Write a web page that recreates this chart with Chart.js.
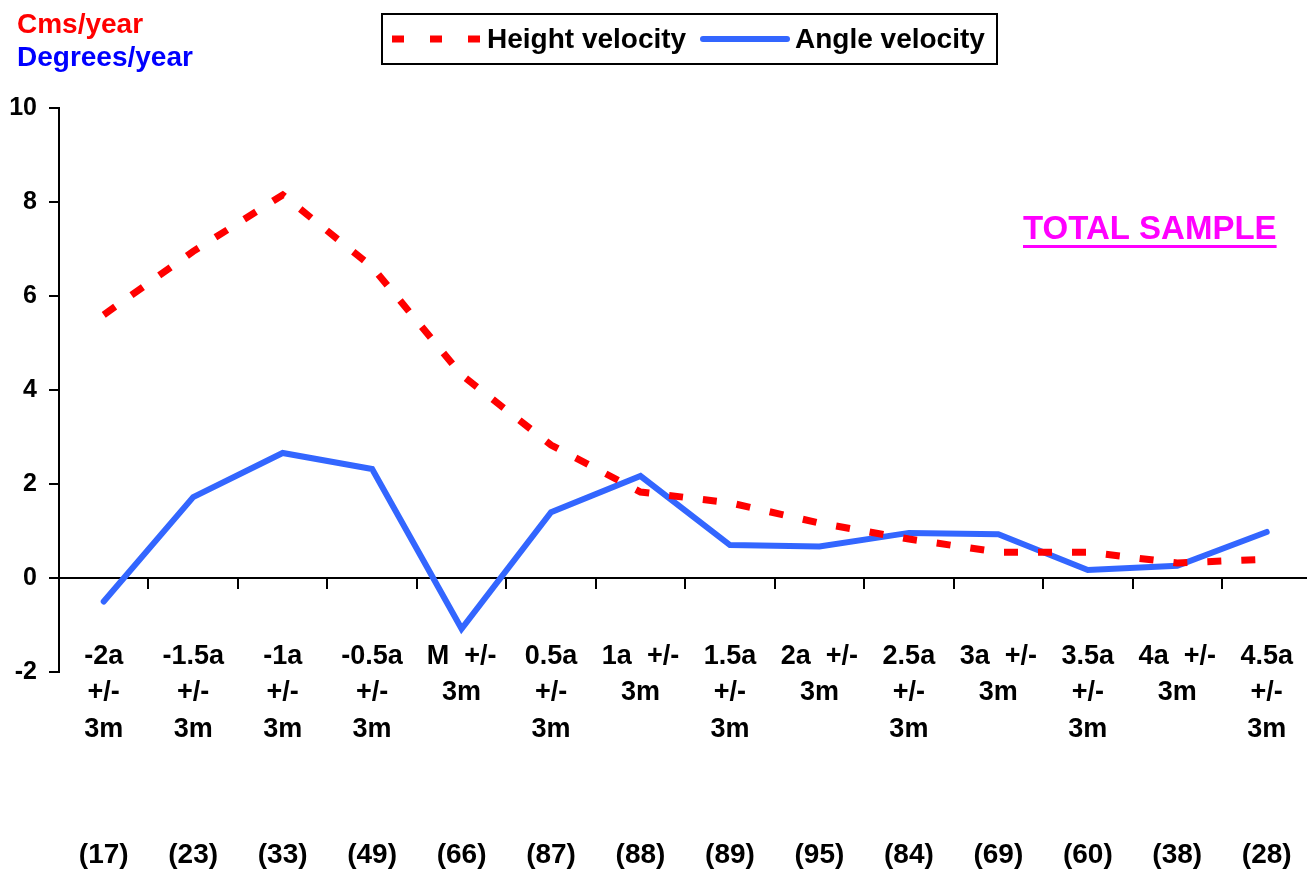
<!DOCTYPE html>
<html><head><meta charset="utf-8">
<script src="https://cdn.jsdelivr.net/npm/chart.js@4"></script>
<style>
html,body{margin:0;padding:0;background:#fff;overflow:hidden;width:1307px;height:869px}
#wrap{position:absolute;left:0;top:0;width:1343px;height:869px}
</style>
</head><body>
<div id="wrap"><canvas id="c" width="1343" height="869"></canvas></div>
<script>
const categories = [
  ["-2a","+/-","3m"], ["-1.5a","+/-","3m"], ["-1a","+/-","3m"], ["-0.5a","+/-","3m"],
  ["M  +/-","3m"], ["0.5a","+/-","3m"], ["1a  +/-","3m"], ["1.5a","+/-","3m"],
  ["2a  +/-","3m"], ["2.5a","+/-","3m"], ["3a  +/-","3m"], ["3.5a","+/-","3m"],
  ["4a  +/-","3m"], ["4.5a","+/-","3m"]
];
const sampleSizes = ["(17)","(23)","(33)","(49)","(66)","(87)","(88)","(89)","(95)","(84)","(69)","(60)","(38)","(28)"];
const heightVelocity = [5.6, 6.95, 8.15, 6.62, 4.32, 2.83, 1.83, 1.6, 1.17, 0.83, 0.55, 0.55, 0.32, 0.4];
const angleVelocity = [-0.5, 1.72, 2.66, 2.32, -1.08, 1.4, 2.17, 0.7, 0.67, 0.96, 0.93, 0.17, 0.26, 0.98];
const yMin = -2, yMax = 10, yStep = 2;
const seriesNames = ["Height velocity", "Angle velocity"];
const unitLabels = ["Cms/year", "Degrees/year"];
const panelTitle = "TOTAL SAMPLE";

const FONT = "'Liberation Sans', Arial, Helvetica, sans-serif";
const RED = "#FF0000", BLUE = "#3366FF";

const decor = {
  id: "decor",
  afterDraw(chart) {
    const ctx = chart.ctx;
    ctx.save();
    // unit labels
    ctx.font = "bold 28px " + FONT;
    ctx.textAlign = "left"; ctx.textBaseline = "alphabetic";
    ctx.fillStyle = "#FF0000"; ctx.fillText(unitLabels[0], 17, 33);
    ctx.fillStyle = "#0000FF"; ctx.fillText(unitLabels[1], 17, 66);
    // legend box
    ctx.strokeStyle = "#000"; ctx.lineWidth = 2;
    ctx.strokeRect(382, 14, 615, 50);
    ctx.lineWidth = 7; ctx.lineCap = "butt";
    ctx.strokeStyle = RED; ctx.setLineDash([12, 26]);
    ctx.beginPath(); ctx.moveTo(392, 39); ctx.lineTo(484, 39); ctx.stroke();
    ctx.setLineDash([]);
    ctx.strokeStyle = BLUE; ctx.lineWidth = 6; ctx.lineCap = "round";
    ctx.beginPath(); ctx.moveTo(703, 39); ctx.lineTo(787, 39); ctx.stroke();
    ctx.fillStyle = "#000"; ctx.font = "bold 28px " + FONT; ctx.textBaseline = "middle";
    ctx.fillText(seriesNames[0], 487, 40);
    ctx.fillText(seriesNames[1], 795, 40);
    // panel title
    ctx.fillStyle = "#FF00FF"; ctx.font = "bold 33px " + FONT; ctx.textBaseline = "alphabetic";
    const w = ctx.measureText(panelTitle).width;
    ctx.fillText(panelTitle, 1023, 239);
    ctx.fillRect(1023, 245, w, 3);
    // sample sizes under categories
    const xs = chart.scales.x;
    ctx.fillStyle = "#000"; ctx.font = "bold 28px " + FONT;
    ctx.textAlign = "center"; ctx.textBaseline = "middle";
    sampleSizes.forEach((s, i) => ctx.fillText(s, xs.getPixelForValue(i), 855));
    ctx.restore();
  }
};

new Chart(document.getElementById("c"), {
  type: "line",
  data: {
    labels: categories,
    datasets: [
      { label: seriesNames[0], data: heightVelocity, borderColor: RED, backgroundColor: RED,
        borderWidth: 7, borderDash: [14, 20], borderCapStyle: "butt", pointRadius: 0, tension: 0, fill: false },
      { label: seriesNames[1], data: angleVelocity, borderColor: BLUE, backgroundColor: BLUE,
        borderWidth: 6, borderCapStyle: "round", borderJoinStyle: "miter", pointRadius: 0, tension: 0, fill: false }
    ]
  },
  options: {
    responsive: false, animation: false, devicePixelRatio: 1,
    layout: { padding: { left: 0, right: 0, top: 108, bottom: 197 } },
    plugins: { legend: { display: false }, tooltip: { enabled: false } },
    scales: {
      x: {
        type: "category", offset: true, position: { y: 0 },
        grid: { offset: true, drawOnChartArea: false, drawTicks: true, tickLength: 10, color: "#000", lineWidth: 2 },
        border: { display: true, color: "#000", width: 2 },
        ticks: { color: "#000", autoSkip: false, maxRotation: 0, minRotation: 0, padding: 50,
                 font: { family: FONT, size: 27, weight: "bold", lineHeight: 1.35 } }
      },
      y: {
        min: yMin, max: yMax,
        grid: { drawOnChartArea: false, drawTicks: true, tickLength: 10, color: "#000", lineWidth: 2 },
        border: { display: true, color: "#000", width: 2 },
        ticks: { stepSize: yStep, color: "#000", padding: 12,
                 font: { family: FONT, size: 25, weight: "bold" } },
        afterFit(s) { s.width = 59; }
      }
    }
  },
  plugins: [decor]
});
</script>
</body></html>
